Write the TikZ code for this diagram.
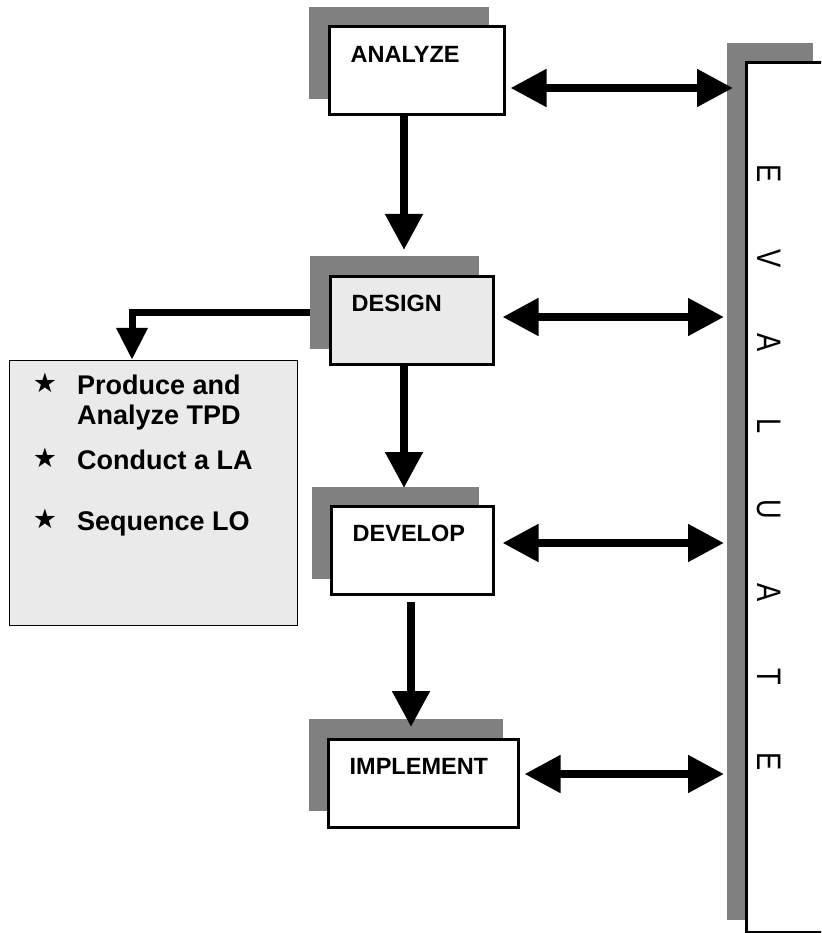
\documentclass[tikz,border=0pt]{standalone}
\usepackage{fontspec}
\setmainfont{Liberation Sans}
\newfontfamily\symfont{DejaVu Sans}
\usetikzlibrary{arrows.meta}
\definecolor{shade}{HTML}{808080}
\definecolor{paper}{HTML}{EAEAEA}
\newcommand{\narrowch}[1]{\scalebox{0.8}[1]{#1}}

\begin{document}
\begin{tikzpicture}[x=1pt,y=-1pt,
  shadowbox/.style={fill=shade, draw=none, anchor=north west, inner sep=0pt, outer sep=0pt},
  stepbox/.style={draw=black, line width=3pt, fill=white, anchor=north west, inner sep=0pt},
  steplabel/.style={anchor=base west, inner sep=0pt, xshift=23pt, yshift=-37pt,
    font=\fontsize{23.5}{27}\selectfont\bfseries},
  itemtext/.style={anchor=base west, inner sep=0pt, align=left,
    font=\fontsize{27}{30}\selectfont\bfseries},
  itemstar/.style={inner sep=0pt, font=\symfont\fontsize{27}{27}\selectfont},
  evalletter/.style={rotate=-90, inner sep=0pt, font=\fontsize{34}{34}\selectfont},
  flow/.style={-{Triangle[length=36pt,width=36pt]}, line width=8pt},
  twoway/.style={{Triangle[length=36pt,width=36pt]}-{Triangle[length=36pt,width=36pt]}, line width=8pt},
  sideflow/.style={-{Triangle[length=32pt,width=30pt]}, line width=7pt},
]
\useasboundingbox (0,0) rectangle (821,933);
\clip (0,0) rectangle (821,933);

% offset shadows
\node[shadowbox, minimum width=180pt, minimum height=92pt] (ashadow) at (309,7) {};
\node[shadowbox, minimum width=169pt, minimum height=93pt] (dshadow) at (310,256) {};
\node[shadowbox, minimum width=167pt, minimum height=92pt] (vshadow) at (312,487) {};
\node[shadowbox, minimum width=194pt, minimum height=92pt] (ishadow) at (309,719) {};
\node[shadowbox, minimum width=86pt, minimum height=877pt] (eshadow) at (727,43) {};

% process boxes
\node[stepbox, minimum width=175pt, minimum height=88pt,
  label={[steplabel]north west:ANALYZE}] (analyze) at (327.5,25.5) {};
\node[stepbox, fill=paper, minimum width=163pt, minimum height=88pt,
  label={[steplabel]north west:DESIGN}] (design) at (328.5,274.5) {};
\node[stepbox, minimum width=162pt, minimum height=88pt,
  label={[steplabel]north west:DEVELOP}] (develop) at (329.5,504.5) {};
\node[stepbox, minimum width=190pt, minimum height=88pt,
  label={[steplabel]north west:IMPLEMENT}] (implement) at (326.5,737.5) {};

% evaluation column
\node[stepbox, minimum width=110pt, minimum height=869pt] (evaluate) at (744.5,61.5) {};
\foreach \ch/\yy in {E/174, V/259, A/343, L/426, U/509, A/593, T/677, E/762}
  \node[evalletter] at (769.5,\yy) {\narrowch{\ch}};

% design tasks
\node[draw=black, line width=1.5pt, fill=paper, anchor=north west, inner sep=0pt,
  minimum width=288pt, minimum height=265pt] (notes) at (8.75,359.75) {};
\node[itemstar] (s1) at (45,383) {★};
\node[itemstar] (s2) at (45,458) {★};
\node[itemstar] (s3) at (45,519) {★};
\node[itemtext] (t1) at (77,424) {Produce and\\Analyze TPD};
\node[itemtext] (t2) at (77,469) {Conduct a LA};
\node[itemtext] (t3) at (77,530) {Sequence LO};

% main flow
\draw[flow, shorten >=6pt] (404,0 |- analyze.south) -- (404,0 |- dshadow.north);
\draw[flow, shorten >=-1pt] (404,0 |- design.south) -- (404,0 |- vshadow.north);
\draw[flow, shorten <=6pt, shorten >=-8pt] (411,0 |- develop.south) -- (411,0 |- ishadow.north);

% links to evaluation
\draw[twoway, shorten <=5pt, shorten >=-6pt] (analyze.east |- 0,88) -- (eshadow.west |- 0,88);
\draw[twoway, shorten <=8pt, shorten >=3pt] (design.east |- 0,317) -- (eshadow.west |- 0,317);
\draw[twoway, shorten <=8pt, shorten >=3pt] (develop.east |- 0,543) -- (eshadow.west |- 0,543);
\draw[twoway, shorten <=5pt, shorten >=3pt] (implement.east |- 0,774) -- (eshadow.west |- 0,774);

% design output
\draw[sideflow] (dshadow.west |- 0,312) -| (132,0 |- notes.north);
\end{tikzpicture}
\end{document}
